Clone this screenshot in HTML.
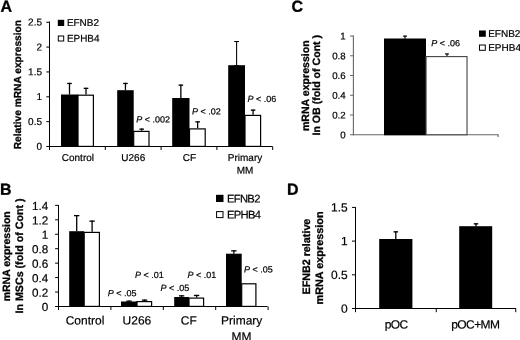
<!DOCTYPE html>
<html><head><meta charset="utf-8"><title>Figure</title>
<style>
html,body{margin:0;padding:0;background:#fff;}
svg{display:block;font-family:"Liberation Sans",sans-serif;text-rendering:geometricPrecision;}
</style></head><body>
<svg width="520" height="340" viewBox="0 0 520 340">
<rect width="520" height="340" fill="#fff"/>
<line x1="49.5" y1="21.5" x2="49.5" y2="147.0" stroke="#000" stroke-width="1"/>
<line x1="49.0" y1="146.5" x2="272.5" y2="146.5" stroke="#000" stroke-width="1"/>
<line x1="46.3" y1="146.5" x2="49.5" y2="146.5" stroke="#000" stroke-width="1"/>
<text transform="matrix(1 0.0005 0 1 42 149.8)" font-size="10" text-anchor="end" font-weight="normal" fill="#000" stroke="#000" stroke-width="0.2" >0</text>
<line x1="46.3" y1="121.65" x2="49.5" y2="121.65" stroke="#000" stroke-width="1"/>
<text transform="matrix(1 0.0005 0 1 42 124.95)" font-size="10" text-anchor="end" font-weight="normal" fill="#000" stroke="#000" stroke-width="0.2" >0.5</text>
<line x1="46.3" y1="96.8" x2="49.5" y2="96.8" stroke="#000" stroke-width="1"/>
<text transform="matrix(1 0.0005 0 1 42 100.1)" font-size="10" text-anchor="end" font-weight="normal" fill="#000" stroke="#000" stroke-width="0.2" >1</text>
<line x1="46.3" y1="71.94999999999999" x2="49.5" y2="71.94999999999999" stroke="#000" stroke-width="1"/>
<text transform="matrix(1 0.0005 0 1 42 75.25)" font-size="10" text-anchor="end" font-weight="normal" fill="#000" stroke="#000" stroke-width="0.2" >1.5</text>
<line x1="46.3" y1="47.099999999999994" x2="49.5" y2="47.099999999999994" stroke="#000" stroke-width="1"/>
<text transform="matrix(1 0.0005 0 1 42 50.4)" font-size="10" text-anchor="end" font-weight="normal" fill="#000" stroke="#000" stroke-width="0.2" >2</text>
<line x1="46.3" y1="22.25" x2="49.5" y2="22.25" stroke="#000" stroke-width="1"/>
<text transform="matrix(1 0.0005 0 1 42 25.55)" font-size="10" text-anchor="end" font-weight="normal" fill="#000" stroke="#000" stroke-width="0.2" >2.5</text>
<line x1="49.5" y1="146.5" x2="49.5" y2="150.0" stroke="#000" stroke-width="1"/>
<line x1="105.3" y1="146.5" x2="105.3" y2="150.0" stroke="#000" stroke-width="1"/>
<line x1="161.1" y1="146.5" x2="161.1" y2="150.0" stroke="#000" stroke-width="1"/>
<line x1="216.89999999999998" y1="146.5" x2="216.89999999999998" y2="150.0" stroke="#000" stroke-width="1"/>
<line x1="272.7" y1="146.5" x2="272.7" y2="150.0" stroke="#000" stroke-width="1"/>
<line x1="69.5" y1="82.8" x2="69.5" y2="94.5" stroke="#000" stroke-width="1.3"/>
<line x1="67.2" y1="83.45" x2="71.8" y2="83.45" stroke="#000" stroke-width="1.3"/>
<rect x="61" y="94.5" width="17" height="52.5" fill="#000"/>
<line x1="86.0" y1="87.7" x2="86.0" y2="94.6" stroke="#000" stroke-width="1.3"/>
<line x1="83.7" y1="88.35000000000001" x2="88.3" y2="88.35000000000001" stroke="#000" stroke-width="1.3"/>
<rect x="78.0" y="95.2" width="15.4" height="51.2" fill="#fff" stroke="#000" stroke-width="1.2"/>
<line x1="125.44999999999999" y1="82.8" x2="125.44999999999999" y2="90.2" stroke="#000" stroke-width="1.3"/>
<line x1="123.14999999999999" y1="83.45" x2="127.74999999999999" y2="83.45" stroke="#000" stroke-width="1.3"/>
<rect x="117.2" y="90.2" width="16.5" height="56.8" fill="#000"/>
<line x1="141.64999999999998" y1="128.5" x2="141.64999999999998" y2="130.8" stroke="#000" stroke-width="1.3"/>
<line x1="139.34999999999997" y1="129.15" x2="143.95" y2="129.15" stroke="#000" stroke-width="1.3"/>
<rect x="133.7" y="131.4" width="15.3" height="15.0" fill="#fff" stroke="#000" stroke-width="1.2"/>
<line x1="180.85" y1="84.5" x2="180.85" y2="98" stroke="#000" stroke-width="1.3"/>
<line x1="178.54999999999998" y1="85.15" x2="183.15" y2="85.15" stroke="#000" stroke-width="1.3"/>
<rect x="172.2" y="98" width="17.3" height="49.0" fill="#000"/>
<line x1="197.65" y1="121.2" x2="197.65" y2="128.3" stroke="#000" stroke-width="1.3"/>
<line x1="195.35" y1="121.85000000000001" x2="199.95000000000002" y2="121.85000000000001" stroke="#000" stroke-width="1.3"/>
<rect x="189.5" y="128.9" width="15.7" height="17.5" fill="#fff" stroke="#000" stroke-width="1.2"/>
<line x1="236.6" y1="41" x2="236.6" y2="65.2" stroke="#000" stroke-width="1.05"/>
<line x1="234.2" y1="41.525" x2="239.0" y2="41.525" stroke="#000" stroke-width="1.05"/>
<line x1="236.6" y1="65.2" x2="236.6" y2="65.2" stroke="#000" stroke-width="1.3"/>
<line x1="234.29999999999998" y1="65.85000000000001" x2="238.9" y2="65.85000000000001" stroke="#000" stroke-width="1.3"/>
<rect x="228.2" y="65.2" width="16.8" height="81.8" fill="#000"/>
<line x1="253.1" y1="109.5" x2="253.1" y2="114.8" stroke="#000" stroke-width="1.3"/>
<line x1="250.79999999999998" y1="110.15" x2="255.4" y2="110.15" stroke="#000" stroke-width="1.3"/>
<rect x="245.0" y="115.4" width="15.6" height="31.0" fill="#fff" stroke="#000" stroke-width="1.2"/>
<text transform="matrix(1 0.0005 0 1 0.5 11.7)" font-size="16" text-anchor="start" font-weight="bold" fill="#000" stroke="#000" stroke-width="0.3" >A</text>
<text transform="translate(21.1,84.6) rotate(-90)" font-size="10.2" text-anchor="middle" font-weight="bold" stroke="#000" stroke-width="0.3" >Relative mRNA expression</text>
<text transform="matrix(1 0.0005 0 1 77.9 161.0)" font-size="10" text-anchor="middle" font-weight="normal" fill="#000" stroke="#000" stroke-width="0.2" >Control</text>
<text transform="matrix(1 0.0005 0 1 133.25 161.0)" font-size="10" text-anchor="middle" font-weight="normal" fill="#000" stroke="#000" stroke-width="0.2" >U266</text>
<text transform="matrix(1 0.0005 0 1 189.5 161.0)" font-size="10" text-anchor="middle" font-weight="normal" fill="#000" stroke="#000" stroke-width="0.2" >CF</text>
<text transform="matrix(1 0.0005 0 1 245 161.0)" font-size="10" text-anchor="middle" font-weight="normal" fill="#000" stroke="#000" stroke-width="0.2" >Primary</text>
<text transform="matrix(1 0.0005 0 1 245 173.65)" font-size="10" text-anchor="middle" font-weight="normal" fill="#000" stroke="#000" stroke-width="0.2" >MM</text>
<rect x="57.8" y="19.8" width="6.4" height="6.2" fill="#000"/>
<text transform="matrix(1 0.0005 0 1 66.9 25.9)" font-size="9.95" text-anchor="start" font-weight="normal" fill="#000" stroke="#000" stroke-width="0.2" >EFNB2</text>
<rect x="58.3" y="36.0" width="5.4" height="5.0" fill="#fff" stroke="#000" stroke-width="1"/>
<text transform="matrix(1 0.0005 0 1 66.9 41.7)" font-size="9.95" text-anchor="start" font-weight="normal" fill="#000" stroke="#000" stroke-width="0.2" >EPHB4</text>
<text transform="matrix(1 0.0005 0 1 136.25 122.5)" font-size="9" stroke="#000" stroke-width="0.2"><tspan font-style="italic">P</tspan> &lt; .002</text>
<text transform="matrix(1 0.0005 0 1 192 114.5)" font-size="9" stroke="#000" stroke-width="0.2"><tspan font-style="italic">P</tspan> &lt; .02</text>
<text transform="matrix(1 0.0005 0 1 247.5 102)" font-size="9" stroke="#000" stroke-width="0.2"><tspan font-style="italic">P</tspan> &lt; .06</text>
<line x1="58.5" y1="205" x2="58.5" y2="307.0" stroke="#000" stroke-width="1"/>
<line x1="58.0" y1="306.5" x2="267.5" y2="306.5" stroke="#000" stroke-width="1"/>
<line x1="55.1" y1="306.5" x2="58.5" y2="306.5" stroke="#000" stroke-width="1"/>
<text transform="matrix(1 0.0005 0 1 48.3 311.1)" font-size="11.7" text-anchor="end" font-weight="normal" fill="#000" stroke="#000" stroke-width="0.2" >0</text>
<line x1="55.1" y1="292.05" x2="58.5" y2="292.05" stroke="#000" stroke-width="1"/>
<text transform="matrix(1 0.0005 0 1 48.3 296.65)" font-size="11.7" text-anchor="end" font-weight="normal" fill="#000" stroke="#000" stroke-width="0.2" >0.2</text>
<line x1="55.1" y1="277.6" x2="58.5" y2="277.6" stroke="#000" stroke-width="1"/>
<text transform="matrix(1 0.0005 0 1 48.3 282.2)" font-size="11.7" text-anchor="end" font-weight="normal" fill="#000" stroke="#000" stroke-width="0.2" >0.4</text>
<line x1="55.1" y1="263.15" x2="58.5" y2="263.15" stroke="#000" stroke-width="1"/>
<text transform="matrix(1 0.0005 0 1 48.3 267.75)" font-size="11.7" text-anchor="end" font-weight="normal" fill="#000" stroke="#000" stroke-width="0.2" >0.6</text>
<line x1="55.1" y1="248.7" x2="58.5" y2="248.7" stroke="#000" stroke-width="1"/>
<text transform="matrix(1 0.0005 0 1 48.3 253.3)" font-size="11.7" text-anchor="end" font-weight="normal" fill="#000" stroke="#000" stroke-width="0.2" >0.8</text>
<line x1="55.1" y1="234.25" x2="58.5" y2="234.25" stroke="#000" stroke-width="1"/>
<text transform="matrix(1 0.0005 0 1 48.3 238.85)" font-size="11.7" text-anchor="end" font-weight="normal" fill="#000" stroke="#000" stroke-width="0.2" >1</text>
<line x1="55.1" y1="219.8" x2="58.5" y2="219.8" stroke="#000" stroke-width="1"/>
<text transform="matrix(1 0.0005 0 1 48.3 224.4)" font-size="11.7" text-anchor="end" font-weight="normal" fill="#000" stroke="#000" stroke-width="0.2" >1.2</text>
<line x1="55.1" y1="205.35" x2="58.5" y2="205.35" stroke="#000" stroke-width="1"/>
<text transform="matrix(1 0.0005 0 1 48.3 209.95)" font-size="11.7" text-anchor="end" font-weight="normal" fill="#000" stroke="#000" stroke-width="0.2" >1.4</text>
<line x1="58.5" y1="306.5" x2="58.5" y2="310.0" stroke="#000" stroke-width="1"/>
<line x1="110.9" y1="306.5" x2="110.9" y2="310.0" stroke="#000" stroke-width="1"/>
<line x1="163.3" y1="306.5" x2="163.3" y2="310.0" stroke="#000" stroke-width="1"/>
<line x1="215.7" y1="306.5" x2="215.7" y2="310.0" stroke="#000" stroke-width="1"/>
<line x1="268.1" y1="306.5" x2="268.1" y2="310.0" stroke="#000" stroke-width="1"/>
<line x1="76.7" y1="215" x2="76.7" y2="231.2" stroke="#000" stroke-width="1.3"/>
<line x1="74.0" y1="215.65" x2="79.4" y2="215.65" stroke="#000" stroke-width="1.3"/>
<rect x="69.2" y="231.2" width="15.0" height="75.8" fill="#000"/>
<line x1="92.1" y1="220.5" x2="92.1" y2="231.8" stroke="#000" stroke-width="1.3"/>
<line x1="89.39999999999999" y1="221.15" x2="94.8" y2="221.15" stroke="#000" stroke-width="1.3"/>
<rect x="84.2" y="232.4" width="15.2" height="74.0" fill="#fff" stroke="#000" stroke-width="1.2"/>
<line x1="129.0" y1="300.5" x2="129.0" y2="301.5" stroke="#000" stroke-width="1.3"/>
<line x1="126.3" y1="301.15" x2="131.7" y2="301.15" stroke="#000" stroke-width="1.3"/>
<rect x="121" y="301.5" width="16" height="5.5" fill="#000"/>
<line x1="144.6" y1="299.5" x2="144.6" y2="301" stroke="#000" stroke-width="1.3"/>
<line x1="141.9" y1="300.15" x2="147.29999999999998" y2="300.15" stroke="#000" stroke-width="1.3"/>
<rect x="137.0" y="301.6" width="14.6" height="4.8" fill="#fff" stroke="#000" stroke-width="1.2"/>
<line x1="181.6" y1="295.2" x2="181.6" y2="297" stroke="#000" stroke-width="1.3"/>
<line x1="178.9" y1="295.84999999999997" x2="184.29999999999998" y2="295.84999999999997" stroke="#000" stroke-width="1.3"/>
<rect x="174.2" y="297" width="14.8" height="10.0" fill="#000"/>
<line x1="196.6" y1="294.8" x2="196.6" y2="297.5" stroke="#000" stroke-width="1.3"/>
<line x1="193.9" y1="295.45" x2="199.29999999999998" y2="295.45" stroke="#000" stroke-width="1.3"/>
<rect x="189.0" y="298.1" width="14.6" height="8.3" fill="#fff" stroke="#000" stroke-width="1.2"/>
<line x1="233.85" y1="250.2" x2="233.85" y2="253.7" stroke="#000" stroke-width="1.3"/>
<line x1="231.15" y1="250.85" x2="236.54999999999998" y2="250.85" stroke="#000" stroke-width="1.3"/>
<rect x="226" y="253.7" width="15.7" height="53.3" fill="#000"/>
<rect x="241.7" y="283.8" width="14.2" height="22.6" fill="#fff" stroke="#000" stroke-width="1.2"/>
<text transform="matrix(1 0.0005 0 1 0 194.8)" font-size="16" text-anchor="start" font-weight="bold" fill="#000" stroke="#000" stroke-width="0.3" >B</text>
<text transform="translate(9.6,256.3) rotate(-90)" font-size="10.5" text-anchor="middle" font-weight="bold" stroke="#000" stroke-width="0.3" >mRNA expression</text>
<text transform="translate(23.2,256) rotate(-90)" font-size="10.7" text-anchor="middle" font-weight="bold" stroke="#000" stroke-width="0.3" >In MSCs (fold of Cont )</text>
<text transform="matrix(1 0.0005 0 1 85 324.6)" font-size="12" text-anchor="middle" font-weight="normal" fill="#000" stroke="#000" stroke-width="0.2" >Control</text>
<text transform="matrix(1 0.0005 0 1 136.9 324.6)" font-size="12" text-anchor="middle" font-weight="normal" fill="#000" stroke="#000" stroke-width="0.2" >U266</text>
<text transform="matrix(1 0.0005 0 1 188.8 324.6)" font-size="12" text-anchor="middle" font-weight="normal" fill="#000" stroke="#000" stroke-width="0.2" >CF</text>
<text transform="matrix(1 0.0005 0 1 241.7 324.6)" font-size="12" text-anchor="middle" font-weight="normal" fill="#000" stroke="#000" stroke-width="0.2" >Primary</text>
<text transform="matrix(1 0.0005 0 1 241.4 340.4)" font-size="12" text-anchor="middle" font-weight="normal" fill="#000" stroke="#000" stroke-width="0.2" >MM</text>
<rect x="216" y="194.8" width="7.5" height="7.2" fill="#000"/>
<text transform="matrix(1 0.0005 0 1 226.9 202.5)" font-size="11.2" text-anchor="start" font-weight="normal" fill="#000" stroke="#000" stroke-width="0.2" letter-spacing="-0.65">EFNB2</text>
<rect x="216.6" y="211.6" width="6.4" height="6.0" fill="#fff" stroke="#000" stroke-width="1"/>
<text transform="matrix(1 0.0005 0 1 226.9 218.5)" font-size="11.2" text-anchor="start" font-weight="normal" fill="#000" stroke="#000" stroke-width="0.2" letter-spacing="-0.65">EPHB4</text>
<text transform="matrix(1 0.0005 0 1 107.8 296.3)" font-size="9" stroke="#000" stroke-width="0.2"><tspan font-style="italic">P</tspan> &lt; .05</text>
<text transform="matrix(1 0.0005 0 1 135 278)" font-size="9" stroke="#000" stroke-width="0.2"><tspan font-style="italic">P</tspan> &lt; .01</text>
<text transform="matrix(1 0.0005 0 1 160.5 291)" font-size="9" stroke="#000" stroke-width="0.2"><tspan font-style="italic">P</tspan> &lt; .05</text>
<text transform="matrix(1 0.0005 0 1 187.5 278)" font-size="9" stroke="#000" stroke-width="0.2"><tspan font-style="italic">P</tspan> &lt; .01</text>
<text transform="matrix(1 0.0005 0 1 244 272.5)" font-size="9" stroke="#000" stroke-width="0.2"><tspan font-style="italic">P</tspan> &lt; .05</text>
<line x1="353.4" y1="35.6" x2="353.4" y2="135.25" stroke="#666" stroke-width="1.1"/>
<line x1="352.9" y1="134.75" x2="498.6" y2="134.75" stroke="#666" stroke-width="1.15"/>
<line x1="498.1" y1="134.75" x2="498.1" y2="137.05" stroke="#666" stroke-width="1.1"/>
<line x1="350.0" y1="134.75" x2="353.4" y2="134.75" stroke="#666" stroke-width="1"/>
<text transform="matrix(1 0.0005 0 1 345.7 138.15)" font-size="9.7" text-anchor="end" font-weight="normal" fill="#000" stroke="#000" stroke-width="0.2" >0</text>
<line x1="350.0" y1="115.01" x2="353.4" y2="115.01" stroke="#666" stroke-width="1"/>
<text transform="matrix(1 0.0005 0 1 345.7 118.41)" font-size="9.7" text-anchor="end" font-weight="normal" fill="#000" stroke="#000" stroke-width="0.2" >0.2</text>
<line x1="350.0" y1="95.27" x2="353.4" y2="95.27" stroke="#666" stroke-width="1"/>
<text transform="matrix(1 0.0005 0 1 345.7 98.67)" font-size="9.7" text-anchor="end" font-weight="normal" fill="#000" stroke="#000" stroke-width="0.2" >0.4</text>
<line x1="350.0" y1="75.53" x2="353.4" y2="75.53" stroke="#666" stroke-width="1"/>
<text transform="matrix(1 0.0005 0 1 345.7 78.93)" font-size="9.7" text-anchor="end" font-weight="normal" fill="#000" stroke="#000" stroke-width="0.2" >0.6</text>
<line x1="350.0" y1="55.79" x2="353.4" y2="55.79" stroke="#666" stroke-width="1"/>
<text transform="matrix(1 0.0005 0 1 345.7 59.19)" font-size="9.7" text-anchor="end" font-weight="normal" fill="#000" stroke="#000" stroke-width="0.2" >0.8</text>
<line x1="350.0" y1="36.05" x2="353.4" y2="36.05" stroke="#666" stroke-width="1"/>
<text transform="matrix(1 0.0005 0 1 345.7 39.45)" font-size="9.7" text-anchor="end" font-weight="normal" fill="#000" stroke="#000" stroke-width="0.2" >1</text>
<line x1="405" y1="35.6" x2="405" y2="38.75" stroke="#000" stroke-width="1.1"/>
<line x1="403.0" y1="36.15" x2="407.0" y2="36.15" stroke="#000" stroke-width="1.1"/>
<rect x="384" y="38.5" width="42" height="96.75" fill="#000"/>
<line x1="447" y1="53.4" x2="447" y2="56.25" stroke="#000" stroke-width="1.1"/>
<line x1="445.0" y1="53.949999999999996" x2="449.0" y2="53.949999999999996" stroke="#000" stroke-width="1.1"/>
<rect x="426.07" y="56.58" width="40.95" height="78.15" fill="#fff" stroke="#4a4a4a" stroke-width="1.15"/>
<text transform="matrix(1 0.0005 0 1 291.5 11.7)" font-size="16" text-anchor="start" font-weight="bold" fill="#000" stroke="#000" stroke-width="0.3" >C</text>
<text transform="translate(308.8,85.7) rotate(-90)" font-size="10.6" text-anchor="middle" font-weight="bold" stroke="#000" stroke-width="0.3" >mRNA expression</text>
<text transform="translate(320,85.2) rotate(-90)" font-size="10.6" text-anchor="middle" font-weight="bold" stroke="#000" stroke-width="0.3" >In OB (fold of Cont )</text>
<rect x="479" y="30.5" width="6.8" height="6.3" fill="#000"/>
<text transform="matrix(1 0.0005 0 1 488.2 37.0)" font-size="10" text-anchor="start" font-weight="normal" fill="#000" stroke="#000" stroke-width="0.2" >EFNB2</text>
<rect x="479.5" y="45.0" width="5.8" height="5.3" fill="#fff" stroke="#000" stroke-width="1"/>
<text transform="matrix(1 0.0005 0 1 488.2 51.0)" font-size="10" text-anchor="start" font-weight="normal" fill="#000" stroke="#000" stroke-width="0.2" >EPHB4</text>
<text transform="matrix(1 0.0005 0 1 431.25 46.25)" font-size="9" stroke="#000" stroke-width="0.2"><tspan font-style="italic">P</tspan> &lt; .06</text>
<line x1="355.5" y1="207" x2="355.5" y2="309.0" stroke="#000" stroke-width="1"/>
<line x1="355.0" y1="308.5" x2="516" y2="308.5" stroke="#000" stroke-width="1"/>
<line x1="352.0" y1="308.5" x2="355.5" y2="308.5" stroke="#000" stroke-width="1"/>
<text transform="matrix(1 0.0005 0 1 347.8 312.7)" font-size="12" text-anchor="end" font-weight="normal" fill="#000" stroke="#000" stroke-width="0.2" >0</text>
<line x1="352.0" y1="274.8" x2="355.5" y2="274.8" stroke="#000" stroke-width="1"/>
<text transform="matrix(1 0.0005 0 1 347.8 279.0)" font-size="12" text-anchor="end" font-weight="normal" fill="#000" stroke="#000" stroke-width="0.2" >0.5</text>
<line x1="352.0" y1="241.1" x2="355.5" y2="241.1" stroke="#000" stroke-width="1"/>
<text transform="matrix(1 0.0005 0 1 347.8 245.3)" font-size="12" text-anchor="end" font-weight="normal" fill="#000" stroke="#000" stroke-width="0.2" >1</text>
<line x1="352.0" y1="207.4" x2="355.5" y2="207.4" stroke="#000" stroke-width="1"/>
<text transform="matrix(1 0.0005 0 1 347.8 211.6)" font-size="12" text-anchor="end" font-weight="normal" fill="#000" stroke="#000" stroke-width="0.2" >1.5</text>
<line x1="355.5" y1="308.5" x2="355.5" y2="312.2" stroke="#000" stroke-width="1"/>
<line x1="436.25" y1="308.5" x2="436.25" y2="312.2" stroke="#000" stroke-width="1"/>
<line x1="515.75" y1="308.5" x2="515.75" y2="312.2" stroke="#000" stroke-width="1"/>
<line x1="395.8" y1="231.2" x2="395.8" y2="240" stroke="#000" stroke-width="1.3"/>
<line x1="393.5" y1="231.85" x2="398.1" y2="231.85" stroke="#000" stroke-width="1.3"/>
<rect x="379.2" y="239" width="33.2" height="70.0" fill="#000"/>
<line x1="476" y1="223.2" x2="476" y2="226.5" stroke="#000" stroke-width="1.3"/>
<line x1="473.7" y1="223.85" x2="478.3" y2="223.85" stroke="#000" stroke-width="1.3"/>
<rect x="459.2" y="226.2" width="33.0" height="82.8" fill="#000"/>
<text transform="matrix(1 0.0005 0 1 287.1 194.7)" font-size="16" text-anchor="start" font-weight="bold" fill="#000" stroke="#000" stroke-width="0.3" >D</text>
<text transform="translate(310,256.6) rotate(-90)" font-size="10.75" text-anchor="middle" font-weight="bold" stroke="#000" stroke-width="0.3" >EFNB2 relative</text>
<text transform="translate(322.7,258) rotate(-90)" font-size="10.85" text-anchor="middle" font-weight="bold" stroke="#000" stroke-width="0.3" >mRNA expression</text>
<text transform="matrix(1 0.0005 0 1 396.1 328.6)" font-size="12" text-anchor="middle" font-weight="normal" fill="#000" stroke="#000" stroke-width="0.2" letter-spacing="-0.6">pOC</text>
<text transform="matrix(1 0.0005 0 1 475.3 328.6)" font-size="12" text-anchor="middle" font-weight="normal" fill="#000" stroke="#000" stroke-width="0.2" letter-spacing="-0.6">pOC+MM</text>
</svg>
</body></html>
